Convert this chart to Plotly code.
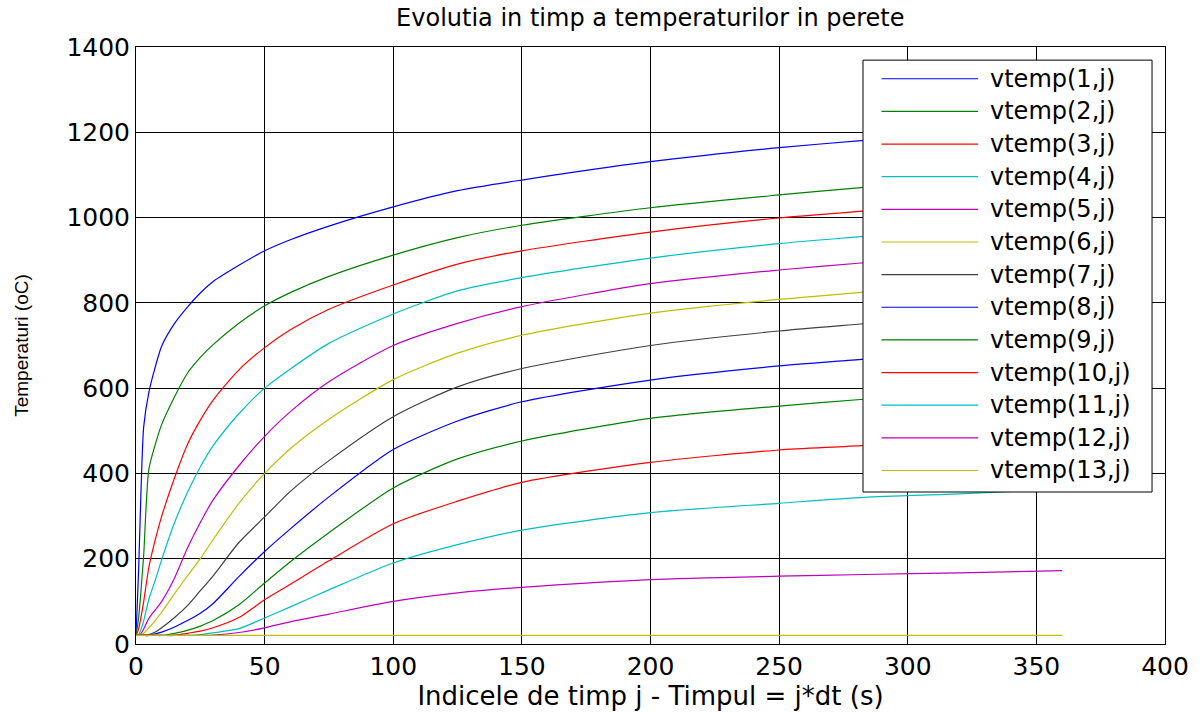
import plotly.graph_objects as go

# ---- data ----
x_index = [0, 1, 2, 3, 5, 7.5, 10, 15, 20, 25, 30, 40, 50, 60, 75, 100, 125, 150, 200, 250, 283, 320, 360]

vtemp1 = [20, 170, 370, 510, 590, 650, 699, 752, 790, 823, 850, 888, 922, 948, 980, 1025, 1063, 1088, 1131, 1164, 1181, 1198, 1214]
vtemp2 = [20, 60, 130, 210, 410, 468, 515, 580, 635, 672, 702, 752, 793, 824, 862, 912, 953, 982, 1023, 1053, 1071, 1089, 1107]
vtemp3 = [20, 35, 65, 100, 180, 245, 300, 390, 468, 525, 572, 643, 695, 737, 785, 842, 891, 922, 966, 999, 1015, 1034, 1052]
vtemp4 = [20, 22, 35, 55, 105, 150, 198, 285, 355, 415, 465, 540, 600, 645, 705, 774, 828, 859, 905, 939, 956, 975, 994]
vtemp5 = [20, 20, 25, 35, 60, 80, 100, 155, 225, 285, 338, 418, 487, 545, 615, 700, 752, 791, 845, 877, 894, 914, 933]
vtemp6 = [20, 20, 22, 25, 38, 55, 75, 118, 160, 200, 245, 330, 400, 458, 527, 620, 682, 724, 776, 808, 825, 845, 865]
vtemp7 = [20, 20, 20, 21, 22, 28, 38, 62, 90, 125, 160, 238, 298, 358, 430, 533, 603, 646, 700, 734, 751, 770, 790]
vtemp8 = [20, 20, 20, 20, 20, 24, 28, 40, 55, 72, 95, 158, 217, 270, 345, 456, 523, 568, 619, 652, 668, 688, 708]
vtemp9 = [20, 20, 20, 20, 20, 20, 20, 25, 32, 42, 55, 92, 143, 193, 261, 366, 434, 476, 529, 558, 574, 592, 610]
vtemp10 = [20, 20, 20, 20, 20, 20, 20, 20, 25, 30, 38, 62, 104, 140, 195, 282, 335, 379, 426, 455, 466, 485, 502]
vtemp11 = [20, 20, 20, 20, 20, 20, 20, 20, 20, 22, 26, 36, 61, 87, 127, 190, 233, 267, 308, 330, 344, 352, 363]
vtemp12 = [20, 20, 20, 20, 20, 20, 20, 20, 20, 20, 21, 27, 38, 52, 70, 100, 120, 133, 151, 159, 163, 167, 172]
vtemp13 = [20, 20, 20, 20, 20, 20, 20, 20, 20, 20, 20, 20, 20, 20, 20, 20, 20, 20, 20, 20, 20, 20, 20]

series = [vtemp1, vtemp2, vtemp3, vtemp4, vtemp5, vtemp6, vtemp7,
          vtemp8, vtemp9, vtemp10, vtemp11, vtemp12, vtemp13]
names = ["vtemp(%d,j)" % (i + 1) for i in range(13)]

x_ticks = [0, 50, 100, 150, 200, 250, 300, 350, 400]
y_ticks = [0, 200, 400, 600, 800, 1000, 1200, 1400]

title_text = "Evolutia in timp a temperaturilor in perete"
x_label = "Indicele de timp j - Timpul = j*dt (s)"
y_label = "Temperaturi (oC)"

# MATLAB classic colour order
palette = ["#0000ff", "#008000", "#ff0000", "#00bfbf", "#bf00bf", "#bfbf00", "#404040"]

FONT = "DejaVu Sans"

fig = go.Figure()
for i, (vals, nm) in enumerate(zip(series, names)):
    fig.add_trace(go.Scatter(
        x=x_index, y=vals, mode="lines", name=nm,
        line=dict(color=palette[i % 7], width=1.2, shape="spline", smoothing=0.7),
        showlegend=False,
    ))

# ---- legend box drawn with shapes/annotations (MATLAB style) ----
L_x0, L_x1 = 0.7065, 0.9874
L_y0, L_y1 = 0.2546, 0.978
shapes = [dict(type="rect", xref="paper", yref="paper", x0=L_x0, x1=L_x1, y0=L_y0, y1=L_y1,
               line=dict(color="black", width=1), fillcolor="white", layer="above")]
annotations = []
row0 = 0.9468
row_step = 0.05468
for i, nm in enumerate(names):
    yy = row0 - i * row_step
    shapes.append(dict(type="line", xref="paper", yref="paper", x0=0.7245, x1=0.8184, y0=yy, y1=yy,
                       line=dict(color=palette[i % 7], width=1.2), layer="above"))
    annotations.append(dict(xref="paper", yref="paper", x=0.8280, y=yy, text=nm, showarrow=False,
                            xanchor="left", yanchor="middle", font=dict(family=FONT, size=24, color="black")))

fig.update_layout(
    width=1201, height=713,
    margin=dict(l=136, r=36, t=47, b=69),
    paper_bgcolor="white", plot_bgcolor="white",
    font=dict(family=FONT, size=22, color="black"),
    title=dict(text=title_text, x=0.5415, xanchor="center", y=0.9748, yanchor="middle",
               yref="container", font=dict(family=FONT, size=24, color="black")),
    shapes=shapes, annotations=annotations,
    showlegend=False,
)
fig.update_xaxes(range=[0, 400], tickvals=x_ticks, ticktext=[str(t) for t in x_ticks],
                 showgrid=True, gridcolor="black", gridwidth=1,
                 showline=True, linecolor="black", linewidth=1, mirror="all",
                 ticks="inside", ticklen=6, tickcolor="black", zeroline=False,
                 tickfont=dict(family=FONT, size=25),
                 title=dict(text=x_label, font=dict(family=FONT, size=26), standoff=0))
fig.update_yaxes(range=[0, 1400], tickvals=y_ticks, ticktext=[str(t) for t in y_ticks],
                 showgrid=True, gridcolor="black", gridwidth=1,
                 showline=True, linecolor="black", linewidth=1, mirror="all",
                 ticks="inside", ticklen=6, tickcolor="black", zeroline=False,
                 tickfont=dict(family=FONT, size=25),
                 title=dict(text=y_label, font=dict(family="Liberation Sans", size=19), standoff=32))

# remove the browser's default 8px body margin so the 1201x713 figure fills the window exactly
fig.write_html("out.html", config={"displayModeBar": False},
               post_script="document.body.style.margin='0';document.body.style.overflow='hidden';")
